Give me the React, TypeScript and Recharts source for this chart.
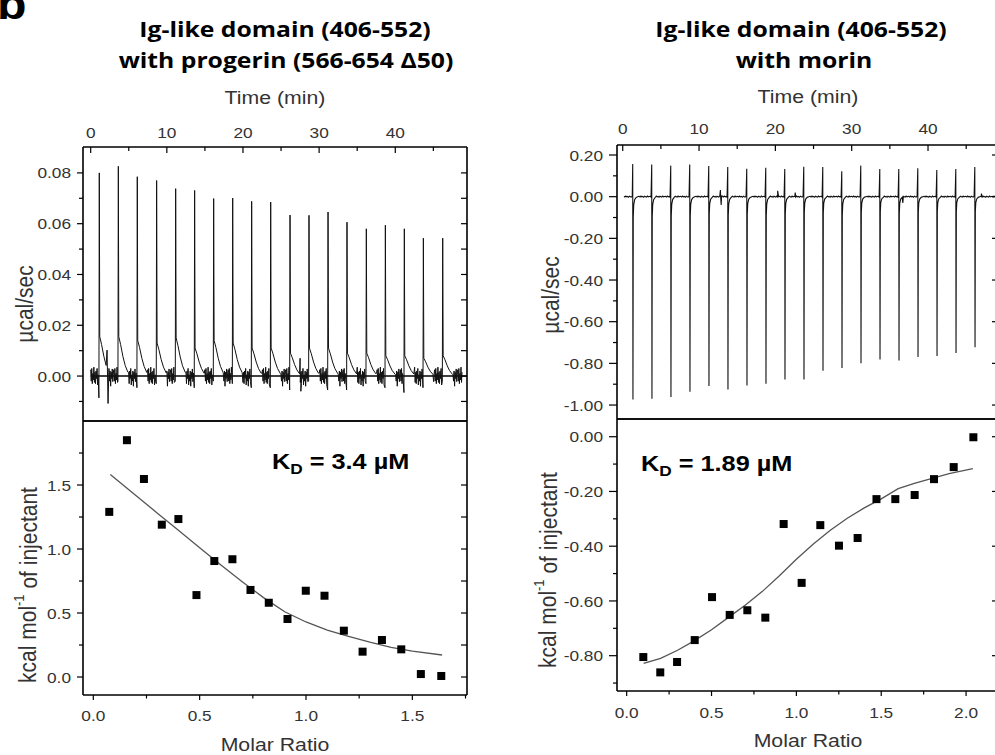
import React from 'react';
import { LineChart, Line, XAxis, YAxis, ComposedChart, Scatter, ReferenceLine } from 'recharts';

// ---------------- data: left panel (Ig-like domain with progerin) ----------------
const aInjTimes = [1.13, 3.63, 6.12, 8.66, 11.16, 13.65, 16.15, 18.65, 21.14, 23.64, 26.18, 28.67, 31.17, 33.66, 36.2, 38.7, 41.19, 43.69, 46.23];
const aPeaks = [0.08, 0.0826, 0.0785, 0.077, 0.0738, 0.0731, 0.0699, 0.0701, 0.0688, 0.0685, 0.0634, 0.0633, 0.0646, 0.0606, 0.058, 0.0594, 0.058, 0.0543, 0.0543];
const aShoulders = [0.0155, 0.0155, 0.014, 0.013, 0.015, 0.011, 0.014, 0.013, 0.011, 0.011, 0.009, 0.011, 0.011, 0.009, 0.009, 0.008, 0.008, 0.007, 0.008];
const aDips = [-0.0086, -0.002, -0.0046, -0.003, -0.002, -0.0046, -0.002, -0.003, -0.0046, -0.0046, -0.0055, -0.002, -0.0055, -0.0055, -0.003, -0.0046, -0.0065, -0.0046, -0.002];
const aDecayDt = [0.06, 0.3, 0.6, 0.9, 1.25];
const aDecayFrac = [1, 0.8, 0.5, 0.27, 0.1];
const aNoise = [0.0025, -0.002, 0.003, -0.003, 0.001, -0.0015, 0.0035, -0.0025, 0.0015, -0.003, 0.002, -0.001, 0.003, -0.0035, 0.0005, -0.002, 0.002, -0.004, 0.0015, -0.001, 0.0028, -0.0022, 0.0012];
const aExtras = [
  { t: 2.15, v: 0.0102 }, { t: 2.28, v: -0.0108 }, { t: 2.4, v: 0.003 },
  { t: 27.5, v: 0.007 }, { t: 27.6, v: -0.006 },
];
const aTraceStart = 0;
const aTraceEnd = 48.8;
const aBaseline = [{ t: 0, v: 0 }, { t: 49.4, v: 0 }];

const aRatio = [0.075, 0.158, 0.238, 0.322, 0.4, 0.485, 0.569, 0.654, 0.739, 0.825, 0.913, 0.999, 1.087, 1.178, 1.266, 1.357, 1.448, 1.54, 1.636];
const aHeat = [1.29, 1.85, 1.547, 1.19, 1.234, 0.64, 0.906, 0.92, 0.68, 0.58, 0.453, 0.674, 0.635, 0.362, 0.198, 0.289, 0.216, 0.023, 0.008];
const aFitX = [0.08, 0.2, 0.3, 0.4, 0.5, 0.6, 0.7, 0.8, 0.9, 1.0, 1.1, 1.2, 1.3, 1.4, 1.5, 1.64];
const aFitY = [1.583, 1.418, 1.282, 1.146, 1.01, 0.875, 0.745, 0.62, 0.51, 0.43, 0.367, 0.318, 0.272, 0.232, 0.202, 0.172];

// ---------------- data: right panel (Ig-like domain with morin) ----------------
const bInjTimes = [1.31, 3.8, 6.29, 8.78, 11.27, 13.76, 16.25, 18.74, 21.23, 23.72, 26.21, 28.7, 31.19, 33.68, 36.17, 38.66, 41.15, 43.64, 46.13];
const bUp = [0.157, 0.154, 0.149, 0.154, 0.147, 0.142, 0.134, 0.139, 0.133, 0.144, 0.142, 0.122, 0.149, 0.133, 0.133, 0.136, 0.128, 0.133, 0.142];
const bDown = [-0.973, -0.97, -0.962, -0.936, -0.909, -0.925, -0.906, -0.898, -0.877, -0.878, -0.835, -0.822, -0.8, -0.782, -0.786, -0.77, -0.765, -0.75, -0.723];
const bRecover = [-0.1, -0.095, -0.093, -0.093, -0.083, -0.09, -0.085, -0.09, -0.085, -0.078, -0.078, -0.09, -0.078, -0.072, -0.078, -0.075, -0.072, -0.072, -0.072];
const bDecayDt = [0.07, 0.13, 0.25, 0.45];
const bDecayFrac = [1, 0.4, 0.15, 0.04];
const bNoise = [0.002, -0.002, 0.003, -0.001, 0.001, -0.003, 0.002, 0, -0.002, 0.003, -0.001, 0.001];
const bExtras = [
  { t: 12.8, v: 0.032 }, { t: 12.9, v: -0.04 }, { t: 13.0, v: 0.004 },
  { t: 20.3, v: 0.028 }, { t: 22.6, v: 0.02 }, { t: 36.7, v: -0.03 }, { t: 47.0, v: 0.015 },
];
const bTraceStart = 0.17;
const bTraceEnd = 49.3;

const bRatio = [0.098, 0.198, 0.297, 0.401, 0.503, 0.607, 0.711, 0.817, 0.925, 1.031, 1.141, 1.251, 1.361, 1.472, 1.583, 1.697, 1.811, 1.927, 2.043];
const bHeat = [-0.805, -0.861, -0.823, -0.743, -0.586, -0.651, -0.634, -0.661, -0.319, -0.534, -0.323, -0.398, -0.37, -0.228, -0.228, -0.213, -0.155, -0.111, -0.002];
const bFitX = [0.1, 0.2, 0.3, 0.4, 0.5, 0.6, 0.7, 0.8, 0.9, 1.0, 1.1, 1.2, 1.3, 1.4, 1.5, 1.6, 1.7, 1.8, 1.9, 2.04];
const bFitY = [-0.828, -0.81, -0.78, -0.745, -0.705, -0.66, -0.615, -0.565, -0.508, -0.448, -0.392, -0.342, -0.298, -0.26, -0.227, -0.19, -0.17, -0.152, -0.135, -0.117];

// ---------------- ticks ----------------
const timeTicks = [0, 5, 10, 15, 20, 25, 30, 35, 40, 45];
const timeMajors = [0, 10, 20, 30, 40];
const aTopYTicks = [-0.01, 0, 0.01, 0.02, 0.03, 0.04, 0.05, 0.06, 0.07, 0.08];
const aTopYMajors = [0, 0.02, 0.04, 0.06, 0.08];
const aBotXTicks = [0, 0.25, 0.5, 0.75, 1, 1.25, 1.5, 1.75];
const aBotXMajors = [0, 0.5, 1, 1.5];
const aBotYTicks = [0, 0.25, 0.5, 0.75, 1, 1.25, 1.5, 1.75];
const aBotYMajors = [0, 0.5, 1, 1.5];
const bTopYTicks = [0.2, 0.1, 0, -0.1, -0.2, -0.3, -0.4, -0.5, -0.6, -0.7, -0.8, -0.9, -1.0];
const bTopYMajors = [0.2, 0, -0.2, -0.4, -0.6, -0.8, -1.0];
const bBotXTicks = [0, 0.25, 0.5, 0.75, 1, 1.25, 1.5, 1.75, 2];
const bBotXMajors = [0, 0.5, 1, 1.5, 2];
const bBotYTicks = [0, -0.1, -0.2, -0.3, -0.4, -0.5, -0.6, -0.7, -0.8, -0.9];
const bBotYMajors = [0, -0.2, -0.4, -0.6, -0.8];

// ---------------- layout ----------------
const PAGE_W = 1005;
const PAGE_H = 755;
const SX = 1.15;
const SANS = '"Liberation Sans", Arial, Helvetica, sans-serif';
const TITLE_FONT = '"Open Sans", "Noto Sans", sans-serif';
const TICK_FS = 15;
const TICK_FILL = '#333';
const FRAME = { stroke: '#000', strokeWidth: 1.6 };

const A_L = 83, A_R = 467, A_T = 147, A_M = 421, A_B = 695;
const B_L = 617, B_R = 999, B_T = 145, B_M = 419, B_B = 691;

const aTimeDomain: [number, number] = [-1.01, 49.42];
const aTopYDomain: [number, number] = [-0.0177, 0.0902];
const aBotXDomain: [number, number] = [-0.0485, 1.757];
const aBotYDomain: [number, number] = [-0.1406, 2.0];
const bTimeDomain: [number, number] = [-0.75, 49.3];
const bTopYDomain: [number, number] = [-1.067, 0.248];
const bBotXDomain: [number, number] = [-0.057, 2.194];
const bBotYDomain: [number, number] = [-0.929, 0.0647];

function frameMargin(L: number, R: number, T: number, B: number) {
  return { left: L - 1, right: PAGE_W - R - 1, top: T - 1, bottom: PAGE_H - B - 1 };
}

// ---------------- build traces ----------------
function buildA() {
  const pts: { t: number; v: number }[] = [];
  let n = 0;
  const noise = (from: number, to: number) => {
    for (let t = from; t < to; t += 0.07) {
      pts.push({ t: +t.toFixed(3), v: aNoise[n % aNoise.length] });
      n++;
    }
  };
  noise(aTraceStart, aInjTimes[0] - 0.1);
  aInjTimes.forEach((t0, i) => {
    pts.push({ t: t0 - 0.05, v: aDips[i] });
    pts.push({ t: t0, v: aPeaks[i] });
    aDecayDt.forEach((dt, k) => pts.push({ t: t0 + dt, v: aShoulders[i] * aDecayFrac[k] }));
    const next = i + 1 < aInjTimes.length ? aInjTimes[i + 1] - 0.1 : aTraceEnd;
    noise(t0 + 1.35, next);
  });
  aExtras.forEach((e) => pts.push(e));
  return pts.sort((p, q) => p.t - q.t);
}

function buildB() {
  const pts: { t: number; v: number }[] = [];
  let n = 0;
  const noise = (from: number, to: number) => {
    for (let t = from; t < to; t += 0.12) {
      pts.push({ t: +t.toFixed(3), v: bNoise[n % bNoise.length] });
      n++;
    }
  };
  noise(bTraceStart, bInjTimes[0] - 0.05);
  bInjTimes.forEach((t0, i) => {
    pts.push({ t: t0, v: bUp[i] });
    pts.push({ t: t0 + 0.03, v: bDown[i] });
    bDecayDt.forEach((dt, k) => pts.push({ t: t0 + dt, v: bRecover[i] * bDecayFrac[k] }));
    const next = i + 1 < bInjTimes.length ? bInjTimes[i + 1] - 0.05 : bTraceEnd;
    noise(t0 + 0.6, next);
  });
  bExtras.forEach((e) => pts.push(e));
  return pts.sort((p, q) => p.t - q.t);
}

const aTrace = buildA();
const bTrace = buildB();
const aPoints = aRatio.map((x, i) => ({ x, y: aHeat[i] }));
const aFit = aFitX.map((x, i) => ({ x, y: aFitY[i] }));
const bPoints = bRatio.map((x, i) => ({ x, y: bHeat[i] }));
const bFit = bFitX.map((x, i) => ({ x, y: bFitY[i] }));

// ---------------- tick renderer ----------------
type Side = 'left' | 'right' | 'top' | 'bottom';
interface TickCfg {
  side: Side;
  inside: boolean;
  majors: number[];
  majorLen: number;
  minorLen: number;
  fmt?: (v: number) => string;
  gap?: number;
}

function makeTick(cfg: TickCfg) {
  return (props: any) => {
    const { x, y, payload } = props;
    const v = payload.value as number;
    const isMajor = cfg.majors.some((m) => Math.abs(m - v) < 1e-9);
    const len = isMajor ? cfg.majorLen : cfg.minorLen;
    let x2 = x;
    let y2 = y;
    if (cfg.side === 'left') x2 = x + (cfg.inside ? len : -len);
    if (cfg.side === 'right') x2 = x + (cfg.inside ? -len : len);
    if (cfg.side === 'top') y2 = y + (cfg.inside ? len : -len);
    if (cfg.side === 'bottom') y2 = y + (cfg.inside ? -len : len);
    let label: React.ReactNode = null;
    if (isMajor && cfg.fmt) {
      const g = cfg.gap ?? 12;
      let lx = x;
      let ly = y;
      let anchor = 'middle';
      if (cfg.side === 'left') { lx = x - g; anchor = 'end'; }
      if (cfg.side === 'right') { lx = x + g; anchor = 'start'; }
      if (cfg.side === 'top') ly = y - g;
      if (cfg.side === 'bottom') ly = y + g;
      label = (
        <text
          transform={`translate(${lx},${ly}) scale(${SX},1)`}
          textAnchor={anchor}
          dominantBaseline="central"
          fontFamily={SANS}
          fontSize={TICK_FS}
          fill={TICK_FILL}
        >
          {cfg.fmt(v)}
        </text>
      );
    }
    return (
      <g>
        <line x1={x} y1={y} x2={x2} y2={y2} stroke="#000" strokeWidth={1.2} />
        {label}
      </g>
    );
  };
}

const f2 = (v: number) => v.toFixed(2);
const f1 = (v: number) => v.toFixed(1);
const fi = (v: number) => String(v);

// ---------------- text overlay helper ----------------
function Txt(props: {
  x: number; y: number; size: number; anchor?: string; weight?: string | number;
  family?: string; fill?: string; rotate?: boolean; baseline?: string; children: React.ReactNode;
}) {
  const { x, y, size, anchor = 'middle', weight = 'normal', family = SANS, fill = '#333', rotate = false, baseline = 'central' } = props;
  const tr = `translate(${x},${y}) scale(${SX},1)${rotate ? ' rotate(-90)' : ''}`;
  return (
    <text transform={tr} fontSize={size} textAnchor={anchor} fontWeight={weight} fontFamily={family} fill={fill} dominantBaseline={baseline}>
      {props.children}
    </text>
  );
}

const layer: React.CSSProperties = { position: 'absolute', left: 0, top: 0 };

export default function App() {
  return (
    <div style={{ position: 'absolute', left: 0, top: 0, width: 995, height: 755, overflow: 'hidden', background: '#fff' }}>
      {/* Left top: thermogram */}
      <div style={layer}>
        <LineChart width={PAGE_W} height={PAGE_H} data={aTrace} margin={frameMargin(A_L, A_R, A_T, A_M)}>
          <XAxis xAxisId="t" orientation="top" type="number" dataKey="t" domain={aTimeDomain} allowDataOverflow
            ticks={timeTicks} interval={0} height={1} tickSize={0} tickMargin={0} tickLine={false} axisLine={FRAME}
            tick={makeTick({ side: 'top', inside: true, majors: timeMajors, majorLen: 6, minorLen: 4, fmt: fi, gap: 15 })} />
          <XAxis xAxisId="b" orientation="bottom" type="number" domain={aTimeDomain} allowDataOverflow
            ticks={[]} height={1} tickLine={false} axisLine={FRAME} tick={false} />
          <YAxis yAxisId="l" orientation="left" type="number" domain={aTopYDomain} allowDataOverflow
            ticks={aTopYTicks} interval={0} width={1} tickSize={0} tickMargin={0} tickLine={false} axisLine={FRAME}
            tick={makeTick({ side: 'left', inside: false, majors: aTopYMajors, majorLen: 6, minorLen: 4, fmt: f2, gap: 12 })} />
          <YAxis yAxisId="r" orientation="right" type="number" domain={aTopYDomain} allowDataOverflow
            ticks={aTopYTicks} interval={0} width={1} tickSize={0} tickMargin={0} tickLine={false} axisLine={FRAME}
            tick={makeTick({ side: 'right', inside: true, majors: aTopYTicks, majorLen: 6, minorLen: 6 })} />
          <ReferenceLine xAxisId="t" yAxisId="l" segment={aBaseline.map((p) => ({ x: p.t, y: p.v }))} stroke="#000" strokeWidth={1.4} />
          <Line xAxisId="t" yAxisId="l" dataKey="v" stroke="#111" strokeWidth={1} dot={false} activeDot={false} isAnimationActive={false} />
        </LineChart>
      </div>

      {/* Left bottom: integrated heats */}
      <div style={layer}>
        <ComposedChart width={PAGE_W} height={PAGE_H} margin={frameMargin(A_L, A_R, A_M, A_B)}>
          <XAxis xAxisId="b" orientation="bottom" type="number" dataKey="x" domain={aBotXDomain} allowDataOverflow
            ticks={aBotXTicks} interval={0} height={1} tickSize={0} tickMargin={0} tickLine={false} axisLine={FRAME}
            tick={makeTick({ side: 'bottom', inside: false, majors: aBotXMajors, majorLen: 5, minorLen: 3.5, fmt: f1, gap: 20 })} />
          <XAxis xAxisId="t" orientation="top" type="number" domain={aBotXDomain} allowDataOverflow
            ticks={aBotXTicks} interval={0} height={1} tickSize={0} tickMargin={0} tickLine={false} axisLine={FRAME}
            tick={makeTick({ side: 'top', inside: true, majors: aBotXMajors, majorLen: 5, minorLen: 3.5 })} />
          <YAxis yAxisId="l" orientation="left" type="number" domain={aBotYDomain} allowDataOverflow
            ticks={aBotYTicks} interval={0} width={1} tickSize={0} tickMargin={0} tickLine={false} axisLine={FRAME}
            tick={makeTick({ side: 'left', inside: false, majors: aBotYMajors, majorLen: 6, minorLen: 4, fmt: f1, gap: 12 })} />
          <YAxis yAxisId="r" orientation="right" type="number" domain={aBotYDomain} allowDataOverflow
            ticks={aBotYTicks} interval={0} width={1} tickSize={0} tickMargin={0} tickLine={false} axisLine={FRAME}
            tick={makeTick({ side: 'right', inside: true, majors: aBotYTicks, majorLen: 6, minorLen: 6 })} />
          <Line xAxisId="b" yAxisId="l" data={aFit} dataKey="y" stroke="#555" strokeWidth={1.3} dot={false} activeDot={false} isAnimationActive={false} />
          <Scatter xAxisId="b" yAxisId="l" data={aPoints} dataKey="y" isAnimationActive={false}
            shape={(p: any) => <rect x={p.cx - 4} y={p.cy - 4} width={8} height={8} fill="#000" />} />
        </ComposedChart>
      </div>

      {/* Right top: thermogram */}
      <div style={layer}>
        <LineChart width={PAGE_W} height={PAGE_H} data={bTrace} margin={frameMargin(B_L, B_R, B_T, B_M)}>
          <XAxis xAxisId="t" orientation="top" type="number" dataKey="t" domain={bTimeDomain} allowDataOverflow
            ticks={timeTicks} interval={0} height={1} tickSize={0} tickMargin={0} tickLine={false} axisLine={FRAME}
            tick={makeTick({ side: 'top', inside: true, majors: timeMajors, majorLen: 6, minorLen: 4, fmt: fi, gap: 17 })} />
          <XAxis xAxisId="b" orientation="bottom" type="number" domain={bTimeDomain} allowDataOverflow
            ticks={[]} height={1} tickLine={false} axisLine={FRAME} tick={false} />
          <YAxis yAxisId="l" orientation="left" type="number" domain={bTopYDomain} allowDataOverflow
            ticks={bTopYTicks} interval={0} width={1} tickSize={0} tickMargin={0} tickLine={false} axisLine={FRAME}
            tick={makeTick({ side: 'left', inside: false, majors: bTopYMajors, majorLen: 8, minorLen: 4, fmt: f2, gap: 14 })} />
          <YAxis yAxisId="r" orientation="right" type="number" domain={bTopYDomain} allowDataOverflow
            ticks={bTopYMajors} interval={0} width={1} tickSize={0} tickMargin={0} tickLine={false} axisLine={FRAME}
            tick={makeTick({ side: 'right', inside: true, majors: bTopYMajors, majorLen: 7, minorLen: 7 })} />
          <Line xAxisId="t" yAxisId="l" dataKey="v" stroke="#111" strokeWidth={1.1} dot={false} activeDot={false} isAnimationActive={false} />
        </LineChart>
      </div>

      {/* Right bottom: integrated heats */}
      <div style={layer}>
        <ComposedChart width={PAGE_W} height={PAGE_H} margin={frameMargin(B_L, B_R, B_M, B_B)}>
          <XAxis xAxisId="b" orientation="bottom" type="number" dataKey="x" domain={bBotXDomain} allowDataOverflow
            ticks={bBotXTicks} interval={0} height={1} tickSize={0} tickMargin={0} tickLine={false} axisLine={FRAME}
            tick={makeTick({ side: 'bottom', inside: false, majors: bBotXMajors, majorLen: 5, minorLen: 3.5, fmt: f1, gap: 21 })} />
          <XAxis xAxisId="t" orientation="top" type="number" domain={bBotXDomain} allowDataOverflow
            ticks={bBotXTicks} interval={0} height={1} tickSize={0} tickMargin={0} tickLine={false} axisLine={FRAME}
            tick={makeTick({ side: 'top', inside: true, majors: bBotXMajors, majorLen: 5, minorLen: 3.5 })} />
          <YAxis yAxisId="l" orientation="left" type="number" domain={bBotYDomain} allowDataOverflow
            ticks={bBotYTicks} interval={0} width={1} tickSize={0} tickMargin={0} tickLine={false} axisLine={FRAME}
            tick={makeTick({ side: 'left', inside: false, majors: bBotYMajors, majorLen: 8, minorLen: 4, fmt: f2, gap: 14 })} />
          <YAxis yAxisId="r" orientation="right" type="number" domain={bBotYDomain} allowDataOverflow
            ticks={bBotYMajors} interval={0} width={1} tickSize={0} tickMargin={0} tickLine={false} axisLine={FRAME}
            tick={makeTick({ side: 'right', inside: true, majors: bBotYMajors, majorLen: 7, minorLen: 7 })} />
          <Line xAxisId="b" yAxisId="l" data={bFit} dataKey="y" stroke="#555" strokeWidth={1.3} dot={false} activeDot={false} isAnimationActive={false} />
          <Scatter xAxisId="b" yAxisId="l" data={bPoints} dataKey="y" isAnimationActive={false}
            shape={(p: any) => <rect x={p.cx - 4} y={p.cy - 4} width={8} height={8} fill="#000" />} />
        </ComposedChart>
      </div>

      {/* Text overlay */}
      <svg width={995} height={755} style={{ ...layer, pointerEvents: 'none' }}>
        <Txt x={-3} y={19} size={42} anchor="start" weight="bold" fill="#000" baseline="alphabetic">b</Txt>

        <Txt x={285} y={37} size={21.5} weight="bold" family={TITLE_FONT} fill="#000" baseline="alphabetic">Ig-like domain (406-552)</Txt>
        <Txt x={286} y={68} size={21.5} weight="bold" family={TITLE_FONT} fill="#000" baseline="alphabetic">with progerin (566-654 Δ50)</Txt>
        <Txt x={801} y={37} size={21.5} weight="bold" family={TITLE_FONT} fill="#000" baseline="alphabetic">Ig-like domain (406-552)</Txt>
        <Txt x={804} y={68} size={21.5} weight="bold" family={TITLE_FONT} fill="#000" baseline="alphabetic">with morin</Txt>

        <Txt x={275} y={98} size={18.5}>Time (min)</Txt>
        <Txt x={808} y={97} size={18.5}>Time (min)</Txt>
        <Txt x={275} y={745} size={18.5}>Molar Ratio</Txt>
        <Txt x={808} y={741} size={18.5}>Molar Ratio</Txt>

        <Txt x={25} y={304} size={21} rotate>µcal/sec</Txt>
        <Txt x={551} y={295} size={21} rotate>µcal/sec</Txt>

        <Txt x={28} y={585} size={21} rotate>
          kcal mol<tspan fontSize={13} dy={-8}>-1</tspan><tspan dy={8}> of injectant</tspan>
        </Txt>
        <Txt x={548} y={570} size={21} rotate>
          kcal mol<tspan fontSize={13} dy={-8}>-1</tspan><tspan dy={8}> of injectant</tspan>
        </Txt>

        <Txt x={272} y={469} size={22} anchor="start" weight="bold" fill="#000" baseline="alphabetic">
          K<tspan fontSize={15} dy={5}>D</tspan><tspan dy={-5}> = 3.4 µM</tspan>
        </Txt>
        <Txt x={641} y={471} size={22} anchor="start" weight="bold" fill="#000" baseline="alphabetic">
          K<tspan fontSize={15} dy={5}>D</tspan><tspan dy={-5}> = 1.89 µM</tspan>
        </Txt>
      </svg>
    </div>
  );
}
